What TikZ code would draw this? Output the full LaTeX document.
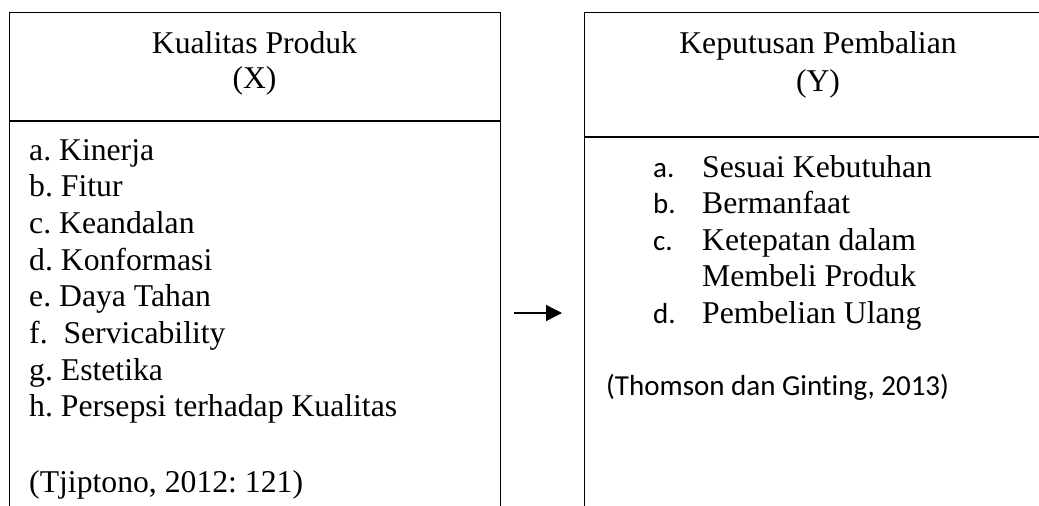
\documentclass[tikz,border=0pt]{standalone}
\usepackage{fontspec}
\setmainfont{Liberation Serif}
\newfontfamily\calibrifont[Ligatures={NoCommon,NoRare}]{Carlito}
\usetikzlibrary{arrows.meta}
\frenchspacing
\begin{document}
\begin{tikzpicture}[x=1pt,y=-1pt,
  boxline/.style={draw=black,line width=1.4pt},
  serif/.style={font=\frenchspacing\fontsize{31.7}{36.6}\selectfont,inner sep=0pt},
  lbl/.style={font=\frenchspacing\calibrifont\fontsize{29}{35}\selectfont,inner sep=0pt,anchor=base west},
  itm/.style={serif,anchor=base west},
  hdr/.style={serif,anchor=base},
  arr/.style={line width=1.4pt,-{Triangle[length=16pt,width=16pt]}}]
\useasboundingbox (0,0) rectangle (1039,506);
\clip (0,0) rectangle (1039,506);
% boxes
\node[boxline,minimum width=491pt,minimum height=520pt,anchor=north west,inner sep=0pt] (kp) at (9,12) {};
\node[boxline,minimum width=468pt,minimum height=520pt,anchor=north west,inner sep=0pt] (kb) at (584,12) {};
\draw[boxline] (kp.west |- 0,121) -- (kp.east |- 0,121);
\draw[boxline] (kb.west |- 0,137) -- (kb.east |- 0,137);
% left header
\node[hdr] (xt) at (254.5,53) {Kualitas Produk};
\node[hdr] (xx) at (254.5,88) {(X)};
% left list
\node[itm] (la) at (29,160) {a. Kinerja};
\node[itm] (lb) at (29,196.7) {b. Fitur};
\node[itm] (lc) at (29,233.4) {c. Keandalan};
\node[itm] (ld) at (29,270.1) {d. Konformasi};
\node[itm] (le) at (29,306.8) {e. Daya Tahan};
\node[itm] (lf) at (29,343.5) {f.\ \ Servicability};
\node[itm] (lg) at (29,380.2) {g. Estetika};
\node[itm] (lh) at (29,416.9) {h. Persepsi terhadap Kualitas};
\node[itm] (lcite) at (29,492) {(Tjiptono, 2012: 121)};
% right header
\node[hdr] (yt) at (818,53) {Keputusan Pembalian};
\node[hdr] (yy) at (818,91) {(Y)};
% right list
\node[lbl] (ra) at (653,177) {a.};
\node[itm] (rat) at (702,177) {Sesuai Kebutuhan};
\node[lbl] (rb) at (653,213.5) {b.};
\node[itm] (rbt) at (702,213.5) {Bermanfaat};
\node[lbl] (rc) at (653,250) {c.};
\node[itm] (rct) at (702,250) {Ketepatan dalam};
\node[itm] (rct2) at (702,286.5) {Membeli Produk};
\node[lbl] (rd) at (653,323) {d.};
\node[itm] (rdt) at (702,323) {Pembelian Ulang};
\node[lbl] (rcite) at (606,395) {(Thomson dan Ginting, 2013)};
% arrow
\coordinate (as) at (514,313);
\coordinate (ae) at (562,313);
\draw[arr] (as) -- (ae);
\end{tikzpicture}
\end{document}
